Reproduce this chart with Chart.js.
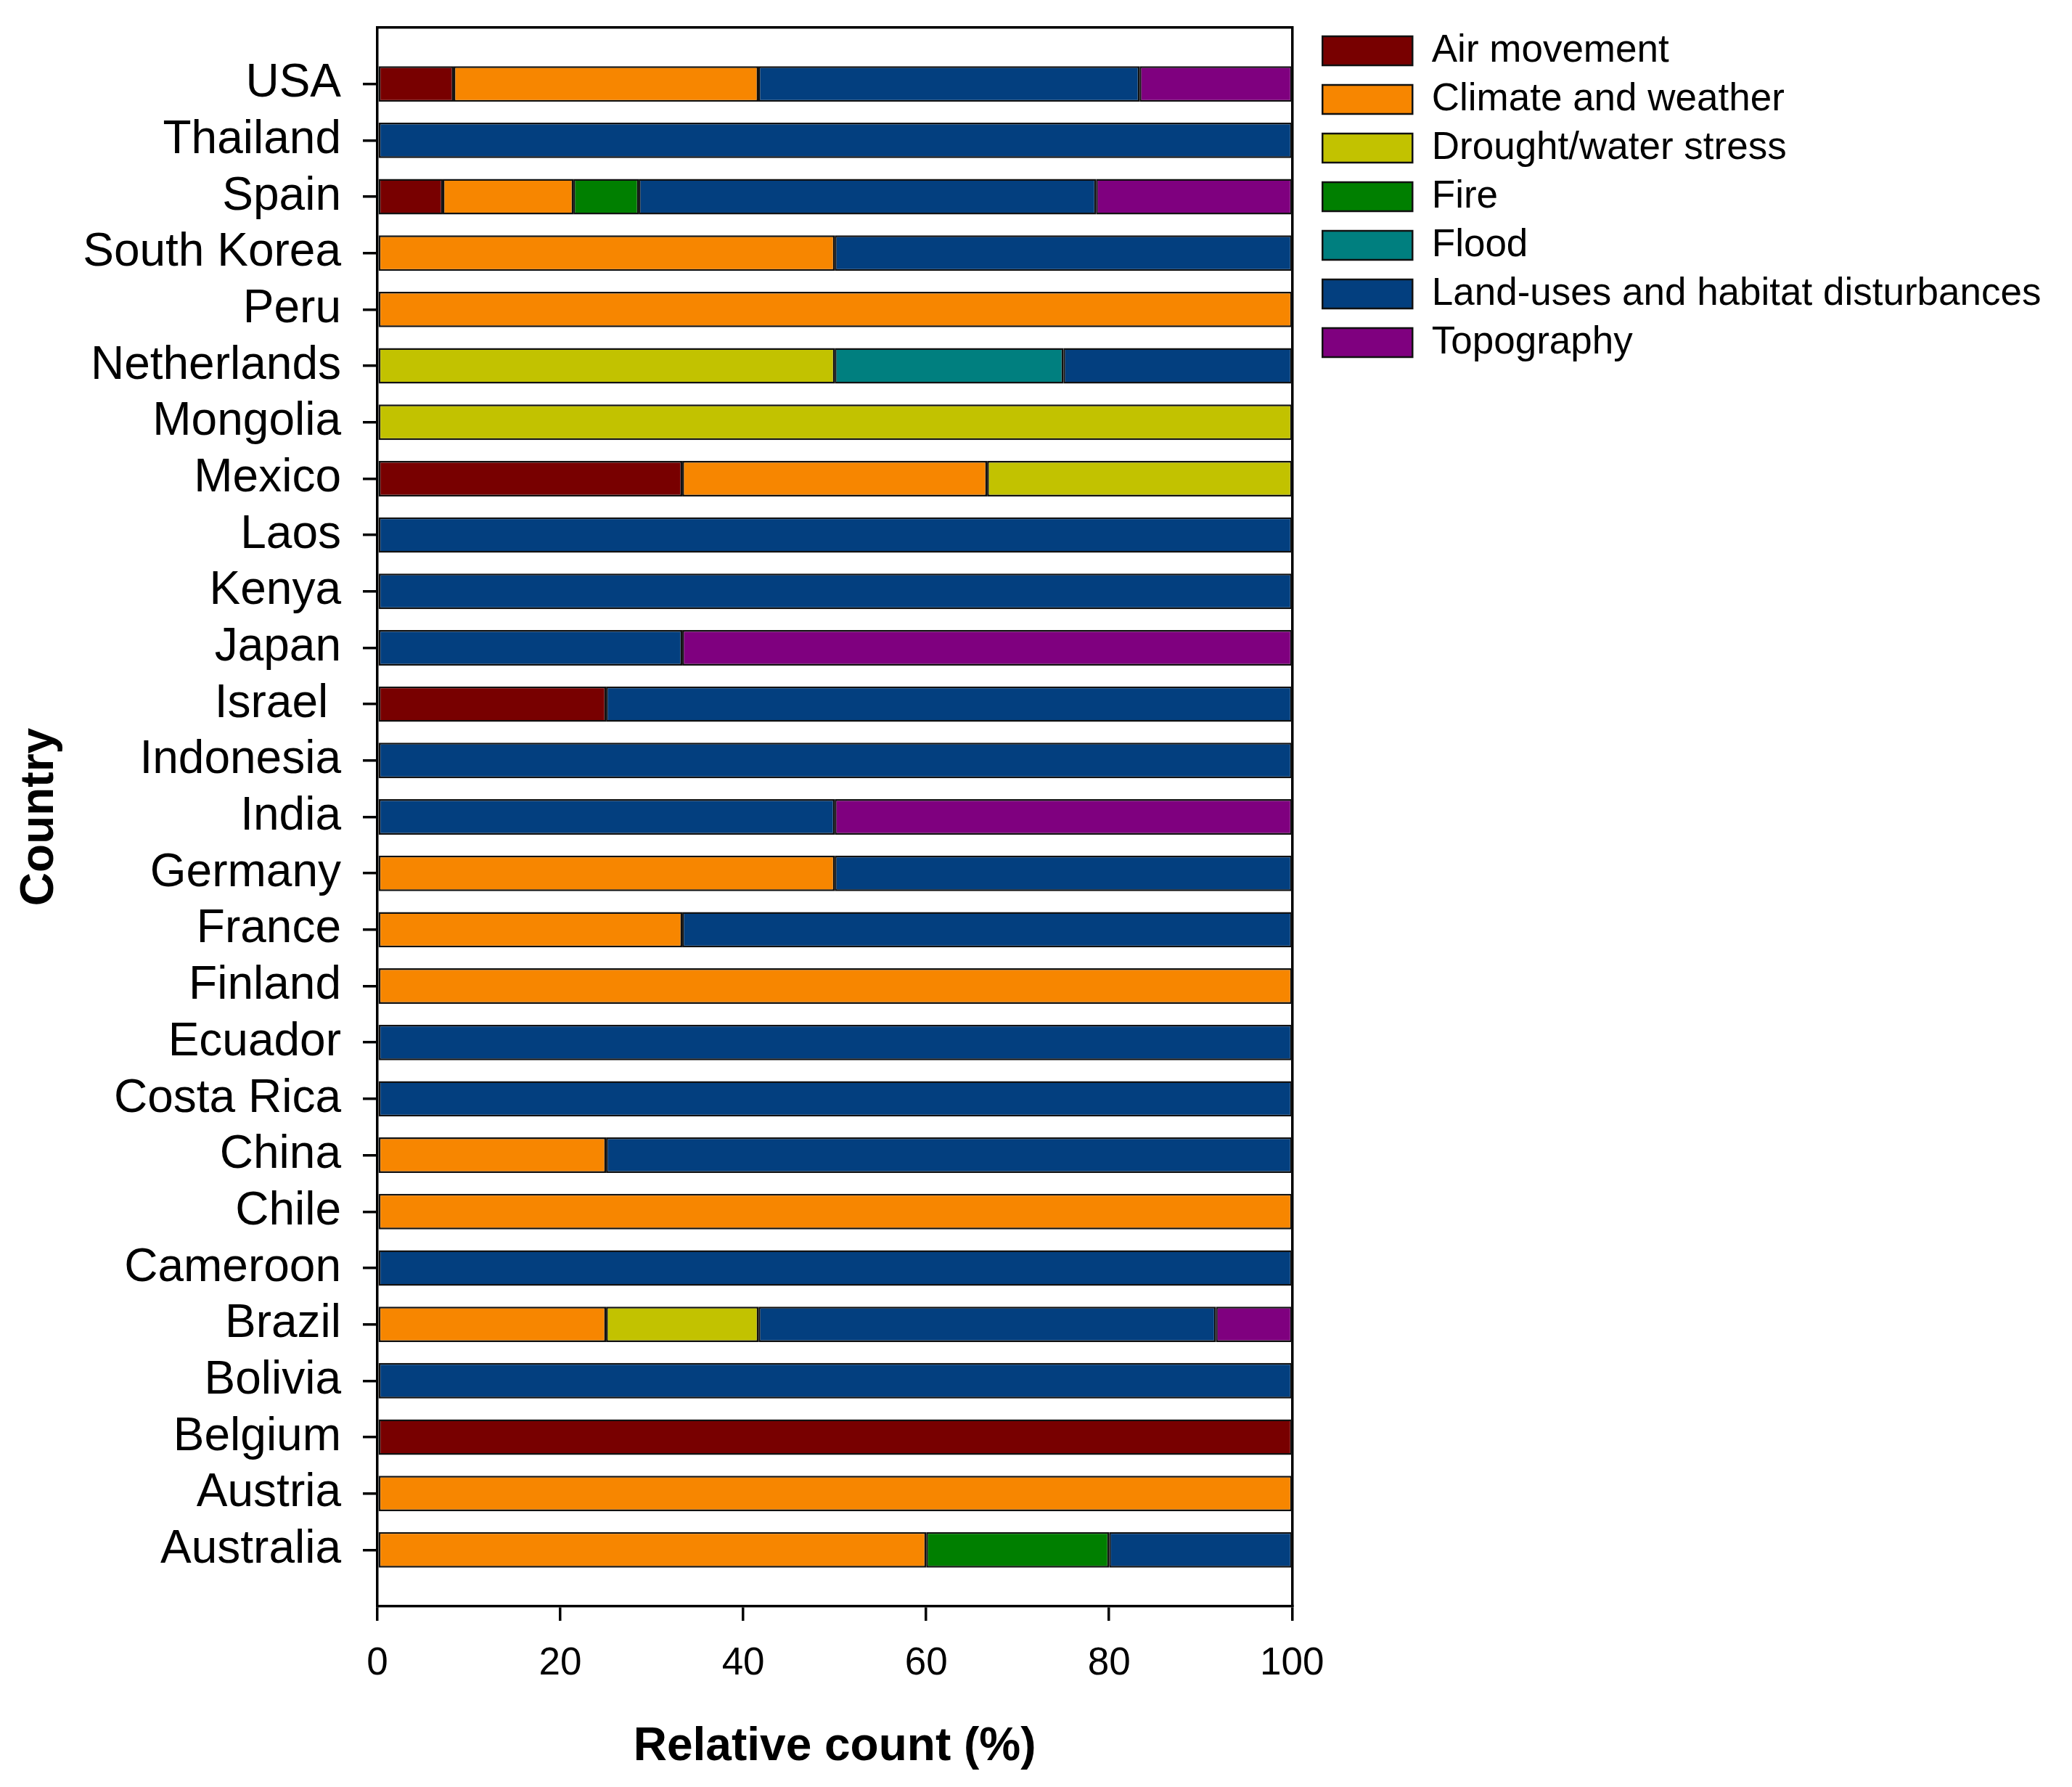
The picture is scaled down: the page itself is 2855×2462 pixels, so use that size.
<!DOCTYPE html>
<html lang="en">
<head>
  <meta charset="UTF-8">
  <title>Relative count by country</title>
  <script src="https://cdn.jsdelivr.net/npm/chart.js"></script>
  <style>
    html, body { margin: 0; padding: 0; background: #fff; }
    #wrap { width: 2855px; height: 2462px; }
  </style>
</head>
<body>
  <div id="wrap"><canvas id="countryChart"></canvas></div>

  <script>
    // countries, top to bottom as in the figure
    const countries = [
      'USA', 'Thailand', 'Spain', 'South Korea', 'Peru', 'Netherlands', 'Mongolia',
      'Mexico', 'Laos', 'Kenya', 'Japan', 'Israel ', 'Indonesia', 'India', 'Germany',
      'France', 'Finland', 'Ecuador', 'Costa Rica', 'China', 'Chile', 'Cameroon',
      'Brazil', 'Bolivia', 'Belgium', 'Austria', 'Australia'
    ];

    // relative count (%) per driver, same order as countries
    const airMovement  = [8.33, 0, 7.14, 0, 0, 0, 0, 33.33, 0, 0, 0, 25, 0, 0, 0, 0, 0, 0, 0, 0, 0, 0, 0, 0, 100, 0, 0];
    const climate      = [33.33, 0, 14.29, 50, 100, 0, 0, 33.33, 0, 0, 0, 0, 0, 0, 50, 33.33, 100, 0, 0, 25, 100, 0, 25, 0, 0, 100, 60];
    const drought      = [0, 0, 0, 0, 0, 50, 100, 33.34, 0, 0, 0, 0, 0, 0, 0, 0, 0, 0, 0, 0, 0, 0, 16.67, 0, 0, 0, 0];
    const fire         = [0, 0, 7.14, 0, 0, 0, 0, 0, 0, 0, 0, 0, 0, 0, 0, 0, 0, 0, 0, 0, 0, 0, 0, 0, 0, 0, 20];
    const flood        = [0, 0, 0, 0, 0, 25, 0, 0, 0, 0, 0, 0, 0, 0, 0, 0, 0, 0, 0, 0, 0, 0, 0, 0, 0, 0, 0];
    const landUse      = [41.67, 100, 50, 50, 0, 25, 0, 0, 100, 100, 33.33, 75, 100, 50, 50, 66.67, 0, 100, 100, 75, 0, 100, 50, 100, 0, 0, 20];
    const topography   = [16.67, 0, 21.43, 0, 0, 0, 0, 0, 0, 0, 66.67, 0, 0, 50, 0, 0, 0, 0, 0, 0, 0, 0, 8.33, 0, 0, 0, 0];

    const seriesNames = [
      'Air movement', 'Climate and weather', 'Drought/water stress', 'Fire',
      'Flood', 'Land-uses and habitat disturbances', 'Topography'
    ];
    const seriesValues = [airMovement, climate, drought, fire, flood, landUse, topography];
    const seriesColors = ['#780000', '#f78600', '#c2c200', '#007f00', '#007f7f', '#033f7f', '#7f007f'];

    const FONT = '"Liberation Sans", Arial, sans-serif';

    // one empty slot above and below, like the original frame
    const labels = [''].concat(countries, ['']);

    const datasets = seriesNames.map((name, i) => ({
      label: name,
      data: [null].concat(seriesValues[i].map(v => v || null), [null]),
      backgroundColor: seriesColors[i],
      borderColor: '#111',
      borderWidth: 2.5,
      borderSkipped: false,
      barPercentage: 0.63,
      categoryPercentage: 1
    }));

    new Chart(document.getElementById('countryChart'), {
      type: 'bar',
      data: { labels: labels, datasets: datasets },
      options: {
        indexAxis: 'y',
        responsive: true,
        maintainAspectRatio: false,
        animation: false,
        layout: { padding: { top: 29.5, right: 32.5, left: 0, bottom: 0 } },
        plugins: {
          tooltip: { enabled: false },
          legend: {
            position: 'right',
            align: 'start',
            maxWidth: 1100,
            labels: {
              boxWidth: 124,
              boxHeight: 40,
              padding: 14,
              color: '#000',
              font: { family: FONT, size: 53 }
            }
          }
        },
        scales: {
          x: {
            type: 'linear',
            stacked: true,
            min: 0,
            max: 100,
            grid: { drawOnChartArea: false, tickLength: 20, lineWidth: 3.5, color: '#000' },
            border: { display: true, color: '#000', width: 3.5 },
            ticks: { stepSize: 20, padding: 28, maxRotation: 0, color: '#000', font: { family: FONT, size: 53 } },
            title: {
              display: true,
              text: 'Relative count (%)',
              color: '#000',
              font: { family: FONT, size: 64, weight: 'bold' },
              padding: { top: 0, bottom: 16 }
            },
            afterFit: s => { s.height = 249; s.paddingLeft = 0; s.paddingRight = 0; }
          },
          y: {
            type: 'category',
            stacked: true,
            offset: false,
            grid: {
              offset: false,
              drawOnChartArea: false,
              tickLength: 20,
              lineWidth: 3.5,
              tickColor: ctx => (ctx.tick && ctx.tick.label === '') ? 'rgba(0,0,0,0)' : '#000'
            },
            border: { display: true, color: '#000', width: 3.5 },
            ticks: { autoSkip: false, padding: 30, color: '#000', font: { family: FONT, size: 64 } },
            title: {
              display: true,
              text: 'Country',
              color: '#000',
              font: { family: FONT, size: 64, weight: 'bold' },
              padding: { top: 17, bottom: 0 }
            },
            afterFit: s => { s.width = 520; s.paddingTop = 0; s.paddingBottom = 0; }
          },
          // empty axes that only draw the top and right frame lines
          xTop: {
            type: 'linear',
            position: 'top',
            grid: { display: false },
            ticks: { display: false },
            border: { display: true, color: '#000', width: 3.5 },
            afterFit: s => { s.height = 8.5; }
          },
          yRight: {
            type: 'linear',
            position: 'right',
            grid: { display: false },
            ticks: { display: false },
            border: { display: true, color: '#000', width: 3.5 },
            afterFit: s => { s.width = 28; }
          }
        }
      }
    });
  </script>
</body>
</html>
